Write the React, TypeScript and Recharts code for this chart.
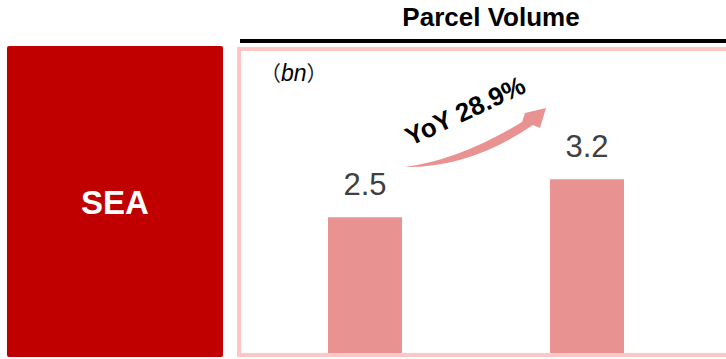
import { BarChart, Bar, XAxis, YAxis, LabelList } from 'recharts';

// periods are not labelled in the picture
const periods = ['Prior', 'Current'];
const volumes = [2.5, 3.2];
const yoyLabel = 'YoY 28.9%';
const region = 'SEA';
const title = 'Parcel Volume';
const unit = 'bn';

const data = periods.map((p, i) => ({ period: p, volume: volumes[i] }));

const FONT = '"Liberation Sans", Arial, sans-serif';
const CJK = '"Noto Sans CJK SC", sans-serif';

export default function App() {
  return (
    <div style={{ position: 'absolute', left: 0, top: 0, width: 726, height: 359, background: '#fff', overflow: 'hidden', fontFamily: FONT }}>
      {/* left region block */}
      <div
        style={{
          position: 'absolute', left: 7, top: 46, width: 216, height: 311, background: '#C00000',
          display: 'flex', alignItems: 'center', justifyContent: 'center', color: '#fff',
          fontWeight: 700, fontSize: 33, borderRadius: 2,
        }}
      >
        <span style={{ marginTop: 2 }}>{region}</span>
      </div>

      {/* title + rule */}
      <div style={{ position: 'absolute', left: 240, top: 2, width: 502, textAlign: 'center', fontWeight: 700, fontSize: 26, color: '#000' }}>
        {title}
      </div>
      <div style={{ position: 'absolute', left: 240, top: 39, width: 490, height: 4, background: '#000' }} />

      {/* pink frame */}
      <div style={{ position: 'absolute', left: 237, top: 47, width: 500, height: 302, border: '4px solid #FFC6C6' }} />

      <div style={{ position: 'absolute', left: 260, top: 57, fontSize: 23, fontStyle: 'italic', color: '#000', whiteSpace: 'nowrap', lineHeight: '30px' }}>
        <span style={{ fontFamily: CJK, fontStyle: 'normal', color: '#222', fontSize: 21 }}>（</span>
        <span>{unit}</span>
        <span style={{ fontFamily: CJK, fontStyle: 'normal', color: '#222', fontSize: 21 }}>）</span>
      </div>

      <div style={{ position: 'absolute', left: 0, top: 0 }}>
        <BarChart width={726} height={359} data={data} margin={{ top: 27, right: 28, bottom: 6, left: 254 }} barCategoryGap={0}>
          <XAxis dataKey="period" hide />
          <YAxis hide domain={[0, 6]} />
          <Bar dataKey="volume" fill="#E99292" barSize={74} isAnimationActive={false}>
            <LabelList dataKey="volume" position="top" offset={22} fill="#404040" fontSize={31} fontFamily={FONT} />
          </Bar>
        </BarChart>
      </div>

      {/* growth arrow annotation */}
      <svg width={726} height={359} style={{ position: 'absolute', left: 0, top: 0, pointerEvents: 'none' }}>
        <path d="M405,167 Q460,160 522,122 L525,113 L546,108 L540,128 L533,125 Q470,168 405,167 Z" fill="#E99292" />
        <text x={469} y={119} textAnchor="middle" transform="rotate(-25, 469, 119)" fontFamily={FONT} fontWeight={700} fontSize={26} fill="#000">
          {yoyLabel}
        </text>
      </svg>
    </div>
  );
}
